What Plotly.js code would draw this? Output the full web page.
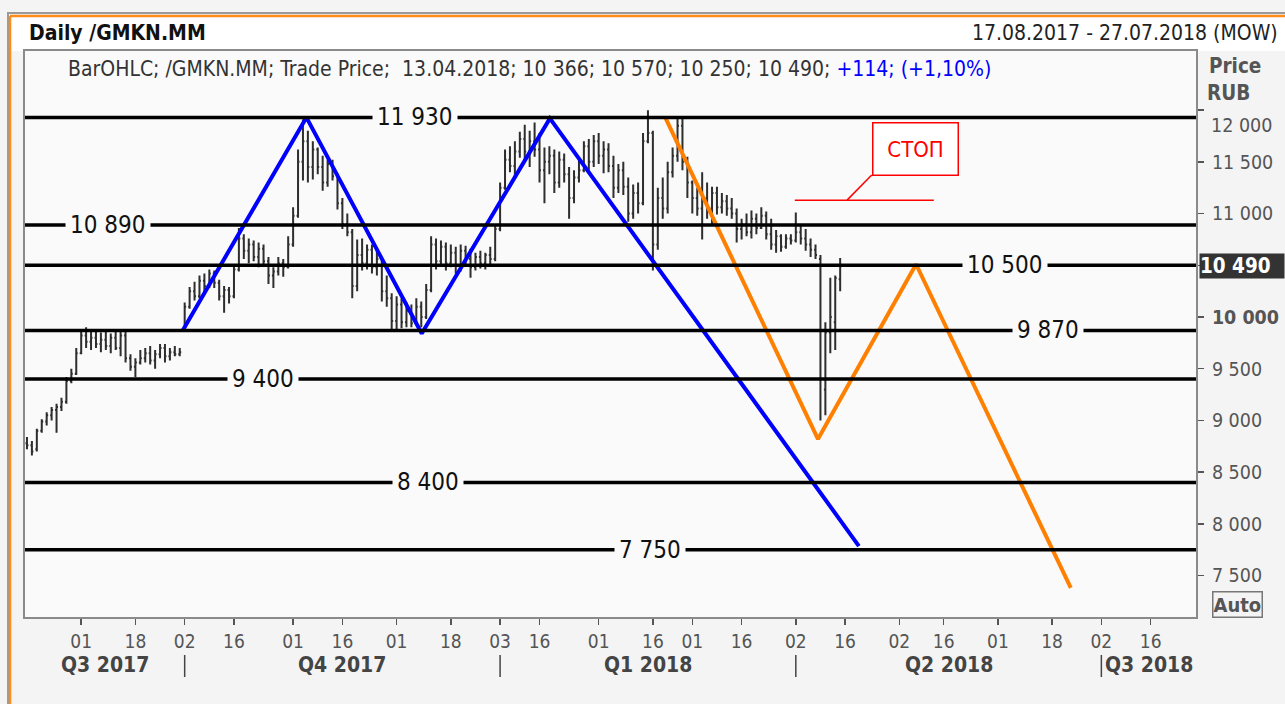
<!DOCTYPE html>
<html><head><meta charset="utf-8">
<script src="https://cdn.plot.ly/plotly-3.0.1.min.js"></script>
<style>html,body{margin:0;padding:0;background:#f4f4f4;}#chart{width:1285px;height:704px;}</style>
</head><body><div id="chart"></div>
<script>
// ---- OHLC data (trading-day index 0 = 17.08.2017 ... 165 = 13.04.2018) ----
const barOpen = [
8780,8760,8720,8900,8990,9050,9100,9130,9180,9380,
9450,9650,9820,9760,9800,9740,9780,9720,9800,9700,
9820,9600,9520,9560,9600,9650,9580,9640,9700,9620,
9660,9640,9870,10100,10250,10200,10350,10300,10420,10330,
10200,10260,10200,10460,10760,10640,10700,10580,10660,10540,
10400,10440,10520,10480,10700,10980,11500,11700,11450,11620,
11450,11300,11480,11360,11100,10900,10820,10300,10600,10520,
10650,10480,10560,10250,10180,9960,10120,9950,10060,9940,
10100,10000,10260,10700,10540,10680,10520,10620,10500,10640,
10560,10480,10580,10520,10600,10560,10850,11250,11520,11460,
11600,11720,11600,11700,11620,11420,11500,11560,11300,11520,
11380,11150,11350,11420,11650,11500,11700,11560,11620,11460,
11250,11420,11260,11000,11200,11100,11700,11780,10700,11150,
11050,11400,11560,11850,11500,11300,11150,11050,11150,11050,
11200,11060,11120,11050,11000,10850,10900,10820,10950,10860,
10980,10800,10700,10780,10680,10760,10740,10820,10760,10700,
10650,10560,9300,9850,9950,10366];
const barHigh = [
8840,8800,8920,9010,9080,9130,9160,9220,9420,9500,
9700,9880,9900,9860,9880,9850,9860,9840,9860,9860,
9860,9640,9600,9680,9700,9720,9680,9740,9740,9700,
9720,9700,10140,10290,10340,10400,10420,10460,10450,10360,
10300,10290,10500,10860,10800,10760,10740,10720,10700,10580,
10480,10580,10560,10780,11060,11620,11910,11800,11700,11640,
11560,11520,11520,11390,11150,11000,10850,10750,10760,10700,
10700,10640,10580,10400,10230,10200,10180,10140,10120,10180,
10150,10320,10780,10760,10740,10720,10700,10680,10700,10690,
10660,10620,10640,10620,10680,10900,11300,11620,11650,11700,
11790,11860,11800,11880,11780,11640,11650,11620,11600,11580,
11450,11420,11550,11700,11720,11760,11780,11700,11680,11560,
11480,11500,11350,11280,11300,11780,12000,11800,11250,11350,
11500,11640,11920,11930,11550,11320,11250,11400,11300,11260,
11260,11200,11180,11150,11050,10950,11000,11030,11000,11060,
11020,10950,10840,10800,10800,10800,11010,10900,10850,10760,
10700,10600,9950,10380,10400,10570];
const barLow = [
8720,8660,8700,8880,8950,9000,8880,9090,9160,9360,
9440,9640,9700,9680,9700,9660,9680,9650,9680,9620,
9560,9480,9420,9540,9560,9540,9500,9600,9560,9580,
9620,9620,9860,10080,10160,10180,10230,10280,10280,10160,
10040,10130,10180,10440,10560,10520,10540,10480,10500,10320,
10280,10400,10390,10470,10680,10960,11320,11300,11330,11380,
11220,11260,11320,11040,10850,10780,10180,10250,10450,10460,
10420,10400,10150,10100,9880,9870,9890,9900,9900,9920,
9900,9980,10240,10460,10500,10450,10480,10420,10440,10500,
10380,10450,10470,10460,10500,10540,10830,11230,11400,11350,
11540,11500,11450,11550,11300,11100,11380,11200,11250,11300,
10950,11100,11300,11400,11420,11450,11480,11390,11400,11150,
11200,11180,10920,10950,11000,11080,11680,10450,10650,10950,
11000,11350,11500,11420,11150,11000,10980,10750,10950,10900,
10990,11000,10980,10950,10720,10750,10780,10760,10800,10850,
10750,10650,10620,10630,10660,10700,10720,10700,10640,10580,
10560,9000,9050,9650,9680,10250];
const barClose = [
8760,8700,8900,8990,9050,9100,9130,9180,9380,9450,
9650,9820,9760,9800,9740,9780,9720,9800,9700,9820,
9600,9520,9560,9600,9650,9580,9640,9700,9620,9660,
9640,9660,10100,10250,10200,10350,10300,10420,10330,10200,
10260,10200,10460,10760,10640,10700,10580,10660,10540,10400,
10440,10520,10480,10700,10980,11500,11700,11450,11620,11450,
11300,11480,11360,11100,10900,10820,10300,10600,10520,10650,
10480,10560,10250,10180,9960,10120,9950,10060,9940,10100,
10000,10260,10700,10540,10680,10520,10620,10500,10640,10560,
10480,10580,10520,10600,10560,10850,11250,11520,11460,11600,
11720,11600,11700,11620,11420,11500,11560,11300,11520,11380,
11150,11350,11420,11650,11500,11700,11560,11620,11460,11250,
11420,11260,11000,11200,11100,11700,11780,10700,11150,11050,
11400,11560,11850,11500,11300,11150,11050,11150,11050,11200,
11060,11120,11050,11000,10850,10900,10820,10950,10860,10980,
10800,10700,10780,10680,10760,10740,10820,10760,10700,10650,
10600,9400,9850,10000,10376,10490];
const lastDate = '13.04.2018';

// ---- axis labels (trading-day index of each labelled date) ----
const tickIdx  = [11,22,32,42,54,64,75,86,96,104,116,127,135,145,156,166,177,186,197,208,218,228];
const tickText = ['01','18','02','16','01','16','01','18','03','16','01','16','01','16','02','16','02','16','01','18','02','16'];
const quarterNames = ['Q3 2017','Q4 2017','Q1 2018','Q2 2018','Q3 2018'];
const quarterStart = [-0.4,32,96,156,218];
const priceTicks = [7500,8000,8500,9000,9500,10000,10500,11000,11500,12000];

// ---- drawing objects ----
const levels = [11930,10890,10500,9870,9400,8400,7750];
const blueX = [31.6,56.7,80.1,106.1,168.8];
const blueY = [9870,11930,9840,11920,7785];
const orangeX = [129.5,160.5,180.4,211.8];
const orangeY = [11930,8820,10510,7380];
const stopLevel = 11130;
const stopText = 'СТОП';

// ---- layout helpers ----
const X0 = -0.4, X1 = 237.2;
const FONT = 'DejaVu Sans Condensed, DejaVu Sans, sans-serif';
const levelLabelAt = [78.7,16.5,198.4,207.1,47.9,81.4,126.4];
const fmt = v => String(v).replace(/\B(?=(\d{3})+(?!\d))/g, ' ');
const idx = barOpen.map((_, i) => i);
const PLOTBG = '#fafafa';
const px = p => (p - 25) / 1171;      // page x pixel -> paper x
const py = p => (617 - p) / 566;      // page y pixel -> paper y

const traces = [
  {type:'ohlc', x:idx, open:barOpen, high:barHigh, low:barLow, close:barClose,
   increasing:{line:{color:'#2e2e2e', width:2}}, decreasing:{line:{color:'#2e2e2e', width:2}},
   tickwidth:0.55, hoverinfo:'skip', showlegend:false},
  {type:'scatter', mode:'lines', x:blueX, y:blueY, line:{color:'#0000ff', width:4}, hoverinfo:'skip', showlegend:false},
  {type:'scatter', mode:'lines', x:orangeX, y:orangeY, line:{color:'#ff8000', width:4}, hoverinfo:'skip', showlegend:false}
];

const shapes = [];
// outer frame
shapes.push({type:'rect', xref:'paper', yref:'paper', x0:px(9), x1:px(1290), y0:1.0, y1:py(16), fillcolor:'#ffffff', line:{width:0}, layer:'below'});
shapes.push({type:'line', xref:'paper', yref:'paper', x0:px(7), x1:px(1290), y0:py(13), y1:py(13), line:{color:'#9a9a9a', width:2}});
shapes.push({type:'line', xref:'paper', yref:'paper', x0:px(10), x1:px(1290), y0:py(16), y1:py(16), line:{color:'#ff8c1a', width:2.5}});
shapes.push({type:'line', xref:'paper', yref:'paper', x0:px(8), x1:px(8), y0:py(710), y1:py(13), line:{color:'#9a9a9a', width:2}});
shapes.push({type:'line', xref:'paper', yref:'paper', x0:px(10), x1:px(10), y0:py(710), y1:py(16), line:{color:'#ff8c1a', width:2.5}});
// level lines
levels.forEach(v => shapes.push({type:'line', xref:'paper', yref:'y', x0:0, x1:1, y0:v, y1:v, line:{color:'#000000', width:3.5}}));
// stop line and leader
shapes.push({type:'line', xref:'x', yref:'y', x0:155.8, x1:184, y0:stopLevel, y1:stopLevel, line:{color:'#ff0000', width:1.5}});
shapes.push({type:'line', xref:'x', yref:'y', x0:166.4, x1:171.4, y0:stopLevel, y1:11373, line:{color:'#ff0000', width:1.5}});
// quarter separators
quarterStart.slice(1).forEach(q => shapes.push({type:'line', xref:'x', yref:'paper', x0:q, x1:q, y0:py(655), y1:py(677), line:{color:'#444444', width:1.5}}));

const ann = [];
const A = o => Object.assign({showarrow:false, xanchor:'center', yanchor:'middle'}, o);
ann.push(A({xref:'paper', yref:'paper', x:px(27), y:py(33), xanchor:'left',
  text:'<b>Daily /GMKN.MM</b>', font:{family:FONT, size:21, color:'#111111'}}));
ann.push(A({xref:'paper', yref:'paper', x:px(1280), y:py(33), xanchor:'right',
  text:'17.08.2017 - 27.07.2018 (MOW)', font:{family:FONT, size:21, color:'#222222'}}));
const n = barClose.length - 1;
const chg = barClose[n] - barClose[n-1];
const pct = (chg / barClose[n-1] * 100).toFixed(2).replace('.', ',');
ann.push(A({xref:'paper', yref:'paper', x:px(66), y:py(69), xanchor:'left',
  text:'BarOHLC; /GMKN.MM; Trade Price;  ' + lastDate + '; ' + fmt(barOpen[n]) + '; ' + fmt(barHigh[n]) + '; ' + fmt(barLow[n]) + '; ' + fmt(barClose[n]) +
       '; <span style="color:#0000ff">+' + chg + '; (+' + pct + '%)</span>',
  font:{family:FONT, size:21, color:'#333333'}}));
levels.forEach((v, k) => ann.push(A({xref:'x', yref:'y', x:levelLabelAt[k], y:v,
  text:fmt(v), font:{family:FONT, size:24, color:'#111111'}, bgcolor:PLOTBG, borderpad:4})));
ann.push(A({xref:'x', yref:'y', x:180.2, y:11629, text:stopText,
  font:{family:FONT, size:22, color:'#ff0000'}, bgcolor:'#ffffff', bordercolor:'#ff0000', borderwidth:1.5, borderpad:1, width:82, height:49}));
// right axis extras
ann.push(A({xref:'paper', yref:'paper', x:px(1235), y:py(66), text:'<b>Price</b>', font:{family:FONT, size:20.5, color:'#555555'}}));
ann.push(A({xref:'paper', yref:'paper', x:px(1228), y:py(93), text:'<b>RUB</b>', font:{family:FONT, size:20.5, color:'#555555'}}));
ann.push(A({xref:'paper', yref:'y', x:px(1209), y:12000, yshift:-15, xanchor:'left', text:fmt(12000), font:{family:FONT, size:19.5, color:'#555555'}}));
ann.push(A({xref:'paper', yref:'y', x:px(1199), y:barClose[n], xanchor:'left', align:'left', width:84,
  text:'<b>' + fmt(barClose[n]) + '</b>', font:{family:FONT, size:20.5, color:'#ffffff'}, bgcolor:'#333333', borderpad:0}));
ann.push(A({xref:'paper', yref:'paper', x:px(1237), y:py(604), text:'<b>Auto</b>', font:{family:FONT, size:20, color:'#555555'},
  bordercolor:'#777777', borderwidth:1.5, borderpad:0}));
// quarter labels
quarterNames.forEach((q, k) => {
  const last = k === quarterNames.length - 1;
  const xs = last ? quarterStart[k] + 0.4 : (quarterStart[k] + quarterStart[k+1]) / 2;
  ann.push(A({xref:'x', yref:'paper', x:xs, y:py(665), xanchor:last ? 'left' : 'center',
    text:'<b>' + q + '</b>', font:{family:FONT, size:21, color:'#444444'}}));
});

const layout = {
  width:1285, height:704,
  margin:{l:25, r:89, t:51, b:87, pad:0},
  paper_bgcolor:'#f4f4f4', plot_bgcolor:PLOTBG,
  showlegend:false,
  font:{family:FONT, size:18, color:'#555555'},
  xaxis:{type:'linear', range:[X0, X1], rangeslider:{visible:false}, showgrid:false, zeroline:false,
    tickmode:'array', tickvals:tickIdx, ticktext:tickText, ticks:'outside', ticklen:6, tickwidth:1.5, tickcolor:'#555555',
    tickfont:{family:FONT, size:19, color:'#555555'}, showline:true, mirror:true, linecolor:'#8a8a8a', linewidth:2, fixedrange:true},
  yaxis:{side:'right', range:[7099, 12572], showgrid:false, zeroline:false,
    tickmode:'array', tickvals:priceTicks,
    ticktext:priceTicks.map(v => v === 10000 ? '<b>' + fmt(v) + '</b>' : (v === 12000 || v === 10500 ? '' : fmt(v))),
    ticks:'outside', ticklen:6, tickwidth:1.5, tickcolor:'#555555', ticklabelstandoff:4,
    tickfont:{family:FONT, size:19.5, color:'#555555'}, showline:true, mirror:true, linecolor:'#8a8a8a', linewidth:2, fixedrange:true},
  shapes:shapes, annotations:ann
};
Plotly.newPlot('chart', traces, layout, {staticPlot:true, displayModeBar:false});
</script></body></html>
